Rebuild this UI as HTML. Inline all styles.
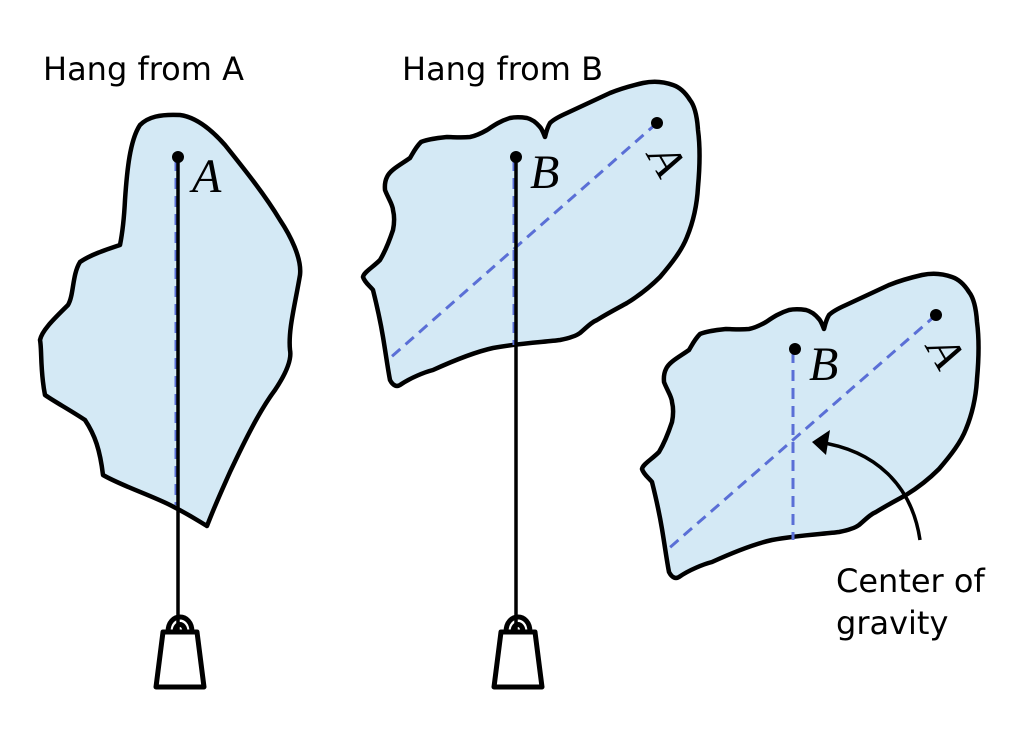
<!DOCTYPE html>
<html><head><meta charset="utf-8"><style>body{margin:0;background:#fff}svg{display:block}</style></head><body>
<svg width="1024" height="739" viewBox="0 0 1024 739" xmlns="http://www.w3.org/2000/svg">
<defs>
<path id="sb" d="M421,142 C415,148 412,155 410,158 C400,165 390,170 387,177 C384,183 385,188 385,190 C388,198 393,205 393,210 C395,218 394,225 393,230 C388,245 383,255 380,260 C372,268 364,272 363,277 C365,283 370,286 373,290 C378,310 381,325 383,337 C386,355 388,370 390,380 C393,386 397,387 400,385 C410,378 425,372 433,370 C455,360 475,352 493,348 C520,343 545,342 560,340 C570,338 576,336 580,333 C588,326 592,322 597,320 C610,312 620,307 627,303 C640,295 652,285 660,277 C672,263 682,250 687,237 C694,220 697,205 698,187 C700,165 700,145 698,130 C697,115 694,105 690,100 C685,92 679,87 673,85 C662,81 652,81 643,83 C630,86 620,89 610,93 C595,100 580,107 567,113 C558,117 553,120 550,123 C547,128 546,133 545,137 C543,132 542,129 540,127 C535,121 531,119 527,118 C520,117 515,117 510,118 C500,121 493,126 487,130 C480,134 475,136 470,137 C460,138 453,137 447,137 C438,138 428,139 421,142 Z"/>
<g id="wt" fill="none" stroke="#000" stroke-width="5" stroke-linejoin="round">
<path d="M-12,-25 C-12,-45 12,-45 12,-25"/>
<path d="M-5,-25 C-5,-35 5,-35 5,-25"/>
<path d="M-17,-25 L17,-25 L24,30 L-24,30 Z" fill="#fff"/>
</g>
</defs>
<g font-family="'DejaVu Sans','Liberation Sans',sans-serif" font-size="32" fill="#000">
<text x="43" y="80">Hang from A</text>
<text x="402" y="80">Hang from B</text>
<text x="836" y="592">Center of</text>
<text x="836" y="634">gravity</text>
</g>
<path d="M140,125 C130,140 127,170 125,200 C124,220 122,235 120,245 C105,250 90,255 80,262 C72,275 74,295 68,305 C55,318 42,330 40,340 C42,350 40,370 45,395 C55,402 70,410 85,420 C95,435 100,450 103,475 C120,485 150,495 170,505 C190,515 200,522 207,526 C215,505 222,490 230,472 C245,440 260,410 275,390 C285,375 292,360 290,350 C288,330 295,305 300,275 C302,258 290,235 280,220 C265,195 245,170 225,145 C210,128 195,117 180,115 C160,114 148,117 140,125 Z" fill="#d4e9f5" stroke="#000" stroke-width="4.5" stroke-linejoin="round"/>
<line x1="176" y1="160" x2="176" y2="505" stroke="#5a6fd6" stroke-width="3" stroke-dasharray="11,7"/>
<line x1="178" y1="157" x2="178" y2="630" stroke="#000" stroke-width="3.5"/>
<circle cx="178" cy="157" r="6"/>
<text x="192" y="192" font-family="'Liberation Serif',serif" font-style="italic" font-size="48">A</text>
<use href="#wt" x="180" y="657"/>
<use href="#sb" fill="#d4e9f5" stroke="#000" stroke-width="4.5" stroke-linejoin="round"/>
<line x1="657" y1="123" x2="390" y2="358" stroke="#5a6fd6" stroke-width="3" stroke-dasharray="11,7"/>
<line x1="514" y1="160" x2="514" y2="345" stroke="#5a6fd6" stroke-width="3" stroke-dasharray="11,7"/>
<line x1="516" y1="157" x2="516" y2="630" stroke="#000" stroke-width="3.5"/>
<circle cx="516" cy="157" r="6"/>
<circle cx="657" cy="123" r="6"/>
<text x="530" y="188" font-family="'Liberation Serif',serif" font-style="italic" font-size="48">B</text>
<text transform="translate(667,160) rotate(60)" text-anchor="middle" dominant-baseline="central" font-family="'Liberation Serif',serif" font-style="italic" font-size="46">A</text>
<use href="#wt" x="518" y="657"/>
<g transform="translate(279,192)">
<use href="#sb" fill="#d4e9f5" stroke="#000" stroke-width="4.5" stroke-linejoin="round"/>
<line x1="657" y1="123" x2="388" y2="358" stroke="#5a6fd6" stroke-width="3" stroke-dasharray="11,7"/>
<line x1="514" y1="160" x2="514" y2="348" stroke="#5a6fd6" stroke-width="3" stroke-dasharray="11,7"/>
<circle cx="516" cy="157" r="6"/>
<circle cx="657" cy="123" r="6"/>
<text x="530" y="188" font-family="'Liberation Serif',serif" font-style="italic" font-size="48">B</text>
<text transform="translate(667,160) rotate(60)" text-anchor="middle" dominant-baseline="central" font-family="'Liberation Serif',serif" font-style="italic" font-size="46">A</text>
</g>
<path d="M920,540 C912,485 875,450 818,442" fill="none" stroke="#000" stroke-width="3.5"/>
<path d="M812,442 L830,430 L826,455 Z" fill="#000"/>
</svg>
</body></html>
